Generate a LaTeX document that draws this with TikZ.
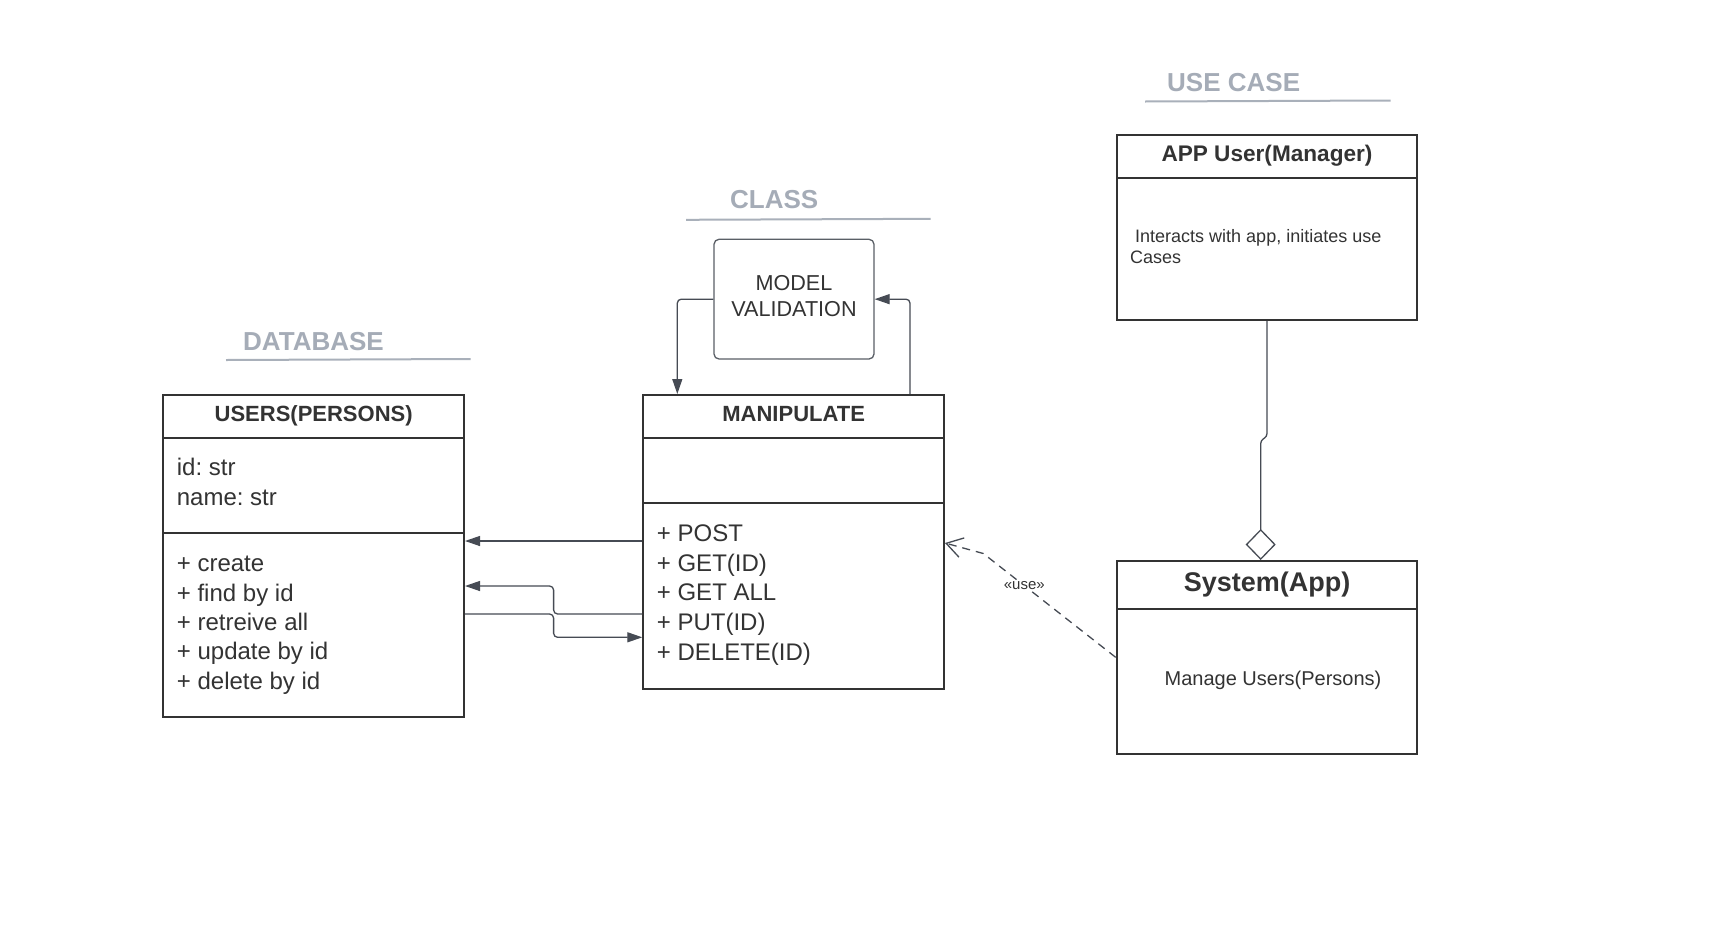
\documentclass[tikz,border=0pt]{standalone}
\usepackage{fontspec}
\setmainfont{Liberation Sans}
\frenchspacing
\usetikzlibrary{arrows.meta,calc}
\definecolor{boxc}{HTML}{333333}
\definecolor{headc}{HTML}{A5ACB7}
\definecolor{rulec}{HTML}{A9B0BA}
\definecolor{connc}{HTML}{464B54}
\definecolor{validc}{HTML}{5A5F66}
\begin{document}
\begin{tikzpicture}[x=1pt, y=-1pt,
    box/.style = {draw=boxc, line width=2pt, minimum width=300.7pt, inner sep=0pt, text=boxc},
    head/.style = {box, font=\bfseries\fontsize{22}{26}\selectfont, text height=16pt, text depth=5pt},
    item/.style = {anchor=base west, inner sep=0pt, text=boxc, font=\fontsize{24}{29}\selectfont},
    title/.style = {anchor=base west, inner sep=0pt, text=headc, font=\bfseries\fontsize{26}{30}\selectfont},
    conn/.style = {draw=connc, line width=1.3pt},
    arr/.style = {-{Triangle[length=15pt, width=10pt]}}]
    \fill[white] (0,0) rectangle (1718,948);
    \node[title] (dbtitle) at (243,350) {DATABASE};
    \node[title] (classtitle) at (730,208) {CLASS};
    \node[title] (ucasetitle) at (1167,91.2) {USE CASE};
    \draw[rulec, line width=2pt] (226,360) -- (470.7,359);
    \draw[rulec, line width=2pt] (686,219.8) -- (930.7,218.8);
    \draw[rulec, line width=2pt] (1145,101.5) -- (1390.7,100.5);

    \node[head, minimum height=42.7pt] (usershead) at (313.65,416.35) {USERS(PERSONS)};
    \node[box, minimum height=95pt] (usersattr) at (313.65,485.2) {};
    \node[box, minimum height=184.6pt] (usersops) at (313.65,625) {};
    \node[item] (usersattr1) at (176.7,475.7) {id: str};
    \node[item] (usersattr2) at (176.7,505) {name: str};
    \foreach \t [count=\i] in {+ create, + find by id, + retreive all, + update by id, + delete by id}
        \node[item] (usersop\i) at (176.7,{571.7+29.4*(\i-1)}) {\t};

    \node[head, minimum height=42.7pt] (maniphead) at (793.65,416.35) {MANIPULATE};
    \node[box, minimum height=65.6pt] (manipattr) at (793.65,470.5) {};
    \node[box, minimum height=185.7pt] (manipops) at (793.65,596.15) {};
    \foreach \t [count=\i] in {+ POST, + GET(ID), + GET ALL, + PUT(ID), + DELETE(ID)}
        \node[item] (manipop\i) at (656.7,{541.7+29.6*(\i-1)}) {\t};

    \node[draw=validc, line width=1.3pt, rounded corners=5pt, minimum width=160pt, minimum height=119.7pt,
        align=center, text=boxc, font=\fontsize{21.6}{26}\selectfont, text depth=6pt] (valid) at (794,299.15) {MODEL\\VALIDATION};

    \node[head, minimum height=42.8pt, font=\bfseries\fontsize{22.6}{27}\selectfont] (apphead) at (1267,156.4) {APP User(Manager)};
    \node[box, minimum height=142pt] (appbody) at (1267,248.8) {};
    \node[item, font=\fontsize{18}{21}\selectfont] (appnote1) at (1135,242) {Interacts with app, initiates use};
    \node[item, font=\fontsize{18}{21}\selectfont] (appnote2) at (1130,263) {Cases};

    \node[head, minimum height=48pt, font=\bfseries\fontsize{27}{32}\selectfont, text height=19.5pt, text depth=6pt] (syshead) at (1267,585) {System(App)};
    \node[box, minimum height=145pt] (sysbody) at (1267,681.5) {};
    \node[item, anchor=base, font=\fontsize{20}{24}\selectfont] (sysnote) at (1273,685) {Manage Users(Persons)};

    \coordinate (bendup) at (553.6,586);
    \coordinate (benddown) at (553.6,637.3);
    \coordinate (usebend) at (983.3,553.5);
    \draw[conn, arr] ($(manipops.west)+(0,-55.15)$) -- ($(usersops.east)+(0,-84)$);
    \draw[conn, arr, rounded corners=4pt] ($(manipops.west)+(0,17.85)$) -| (bendup) -- (usersops.east |- bendup);
    \draw[conn, arr, rounded corners=4pt] ($(usersops.east)+(0,-11)$) -| (benddown) -- (manipops.west |- benddown);
    \draw[conn, arr, rounded corners=4pt] (valid.west) -| ($(maniphead.north west)+(35,0)$);
    \draw[conn, arr, rounded corners=4pt] ($(maniphead.north east)+(-35,0)$) |- (valid.east);
    \draw[conn, dash pattern=on 8pt off 6pt, -{Straight Barb[length=16pt, width=20pt]}] ($(sysbody.west)+(0,-24.2)$)
        -- node[pos=0.69, fill=white, inner sep=1pt, text=boxc, font=\fontsize{15}{18}\selectfont] (uselabel) {«use»} (usebend)
        -- ($(manipops.east)+(0,-53.15)$);
    \draw[conn, {Diamond[open, length=31pt, width=30pt]}-, rounded corners=3pt] ($(syshead.north)+(-6.3,0)$)
        -- ($(syshead.north)+(-6.3,-119.5)$) -- ($(appbody.south)+(0,115.7)$) -- (appbody.south);
\end{tikzpicture}
\end{document}
